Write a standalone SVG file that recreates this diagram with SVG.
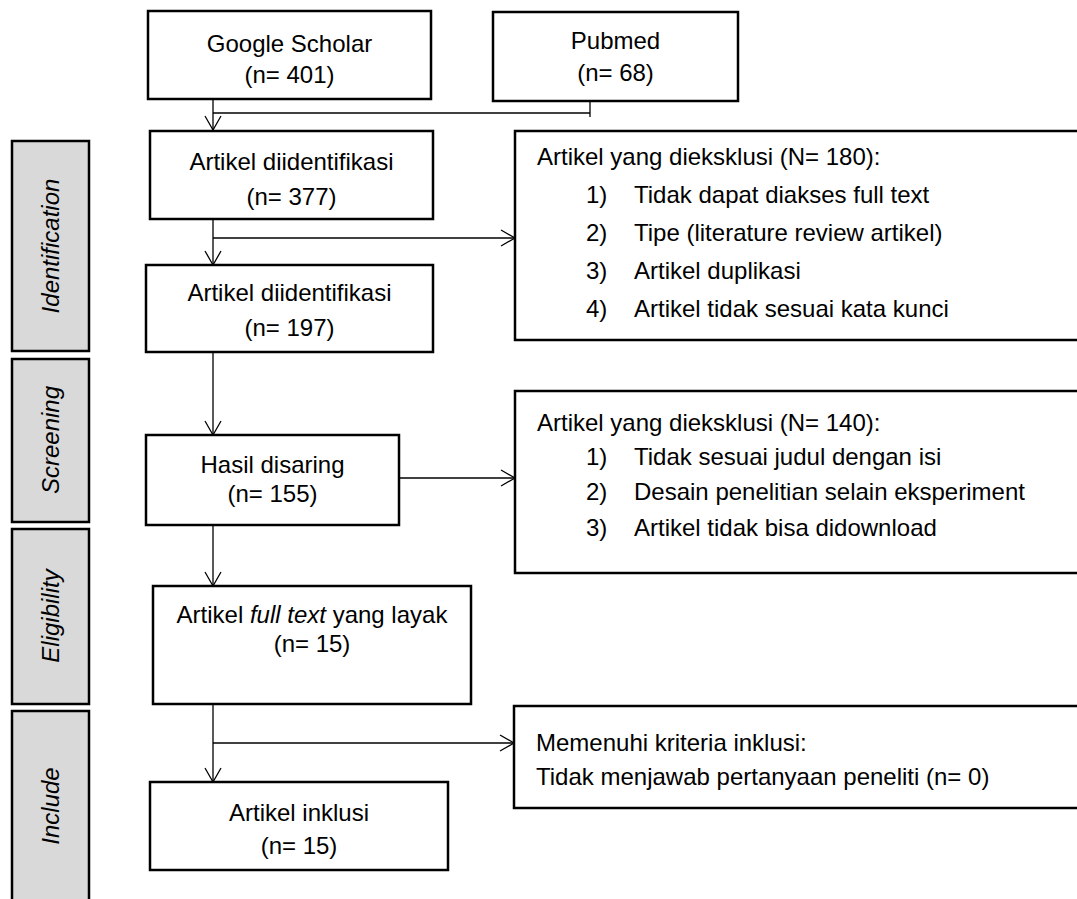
<svg xmlns="http://www.w3.org/2000/svg" width="1077" height="899" viewBox="0 0 1077 899">
<style>
.box{fill:#fff;stroke:#000;stroke-width:2.5}
.phase{fill:#d9d9d9;stroke:#000;stroke-width:2.5}
.t{font-family:"Liberation Sans",Arial,sans-serif;font-size:24px;fill:#000}
.c{text-anchor:middle}
.ph{font-family:"Liberation Sans",Arial,sans-serif;font-size:24px;font-style:italic;fill:#000;text-anchor:middle}
.ln{fill:none;stroke:#000;stroke-width:1.3}
</style>
<defs>
<marker id="ah" viewBox="0 -9 16 18" refX="14" refY="0" markerWidth="16" markerHeight="18" markerUnits="userSpaceOnUse" orient="auto" overflow="visible">
<path d="M0,-8 L14,0 L0,8" fill="none" stroke="#000" stroke-width="1.3"/>
</marker>
</defs>
<rect width="1077" height="899" fill="#fff"/>

<g id="phase-identification">
<rect class="phase" x="12" y="141" width="77" height="210"/>
<text class="ph" transform="translate(59,246) rotate(-90)">Identification</text>
</g>
<g id="phase-screening">
<rect class="phase" x="12" y="359" width="77" height="163"/>
<text class="ph" transform="translate(59,440) rotate(-90)">Screening</text>
</g>
<g id="phase-eligibility">
<rect class="phase" x="12" y="529" width="77" height="175"/>
<text class="ph" transform="translate(59,616) rotate(-90)">Eligibility</text>
</g>
<g id="phase-include">
<rect class="phase" x="12" y="711" width="77" height="200"/>
<text class="ph" transform="translate(59,806) rotate(-90)">Include</text>
</g>

<g id="connectors">
<path class="ln" d="M213,99 V130" marker-end="url(#ah)"/>
<path class="ln" d="M213,113 H590"/>
<path class="ln" d="M590,96 V117"/>
<path class="ln" d="M213,219 V265" marker-end="url(#ah)"/>
<path class="ln" d="M213,238 H515" marker-end="url(#ah)"/>
<path class="ln" d="M213,352 V435" marker-end="url(#ah)"/>
<path class="ln" d="M399,478 H515" marker-end="url(#ah)"/>
<path class="ln" d="M213,525 V586" marker-end="url(#ah)"/>
<path class="ln" d="M213,704 V782" marker-end="url(#ah)"/>
<path class="ln" d="M213,743 H514" marker-end="url(#ah)"/>
</g>

<g id="google-scholar">
<rect class="box" x="148" y="11" width="283" height="88"/>
<text class="t c" x="289.5" y="52">Google Scholar</text>
<text class="t c" x="289.5" y="83">(n= 401)</text>
</g>
<g id="pubmed">
<rect class="box" x="493" y="12" width="245" height="89"/>
<text class="t c" x="615.5" y="49">Pubmed</text>
<text class="t c" x="615.5" y="81">(n= 68)</text>
</g>
<g id="identified-377">
<rect class="box" x="150" y="131" width="283" height="88"/>
<text class="t c" x="291.5" y="170">Artikel diidentifikasi</text>
<text class="t c" x="291.5" y="205">(n= 377)</text>
</g>
<g id="excluded-180">
<rect class="box" x="515" y="131" width="590" height="209"/>
<text class="t" x="537" y="165">Artikel yang dieksklusi (N= 180):</text>
<text class="t" x="586" y="203">1)</text><text class="t" x="634" y="203">Tidak dapat diakses full text</text>
<text class="t" x="586" y="241">2)</text><text class="t" x="634" y="241">Tipe (literature review artikel)</text>
<text class="t" x="586" y="279">3)</text><text class="t" x="634" y="279">Artikel duplikasi</text>
<text class="t" x="586" y="317">4)</text><text class="t" x="634" y="317">Artikel tidak sesuai kata kunci</text>
</g>
<g id="identified-197">
<rect class="box" x="146" y="265" width="287" height="87"/>
<text class="t c" x="289.5" y="301">Artikel diidentifikasi</text>
<text class="t c" x="289.5" y="336">(n= 197)</text>
</g>
<g id="screened-155">
<rect class="box" x="146" y="435" width="253" height="90"/>
<text class="t c" x="272.5" y="473">Hasil disaring</text>
<text class="t c" x="272.5" y="502">(n= 155)</text>
</g>
<g id="excluded-140">
<rect class="box" x="515" y="391" width="590" height="182"/>
<text class="t" x="537" y="431">Artikel yang dieksklusi (N= 140):</text>
<text class="t" x="586" y="465">1)</text><text class="t" x="634" y="465">Tidak sesuai judul dengan isi</text>
<text class="t" x="586" y="500">2)</text><text class="t" x="634" y="500">Desain penelitian selain eksperiment</text>
<text class="t" x="586" y="536">3)</text><text class="t" x="634" y="536">Artikel tidak bisa didownload</text>
</g>
<g id="fulltext-15">
<rect class="box" x="153" y="586" width="318" height="118"/>
<text class="t c" x="312" y="623">Artikel <tspan font-style="italic">full text</tspan> yang layak</text>
<text class="t c" x="312" y="652">(n= 15)</text>
</g>
<g id="inclusion-criteria">
<rect class="box" x="514" y="706" width="590" height="102"/>
<text class="t" x="536" y="751">Memenuhi kriteria inklusi:</text>
<text class="t" x="536" y="785">Tidak menjawab pertanyaan peneliti (n= 0)</text>
</g>
<g id="included-15">
<rect class="box" x="150" y="782" width="298" height="88"/>
<text class="t c" x="299" y="821">Artikel inklusi</text>
<text class="t c" x="299" y="854">(n= 15)</text>
</g>
</svg>
